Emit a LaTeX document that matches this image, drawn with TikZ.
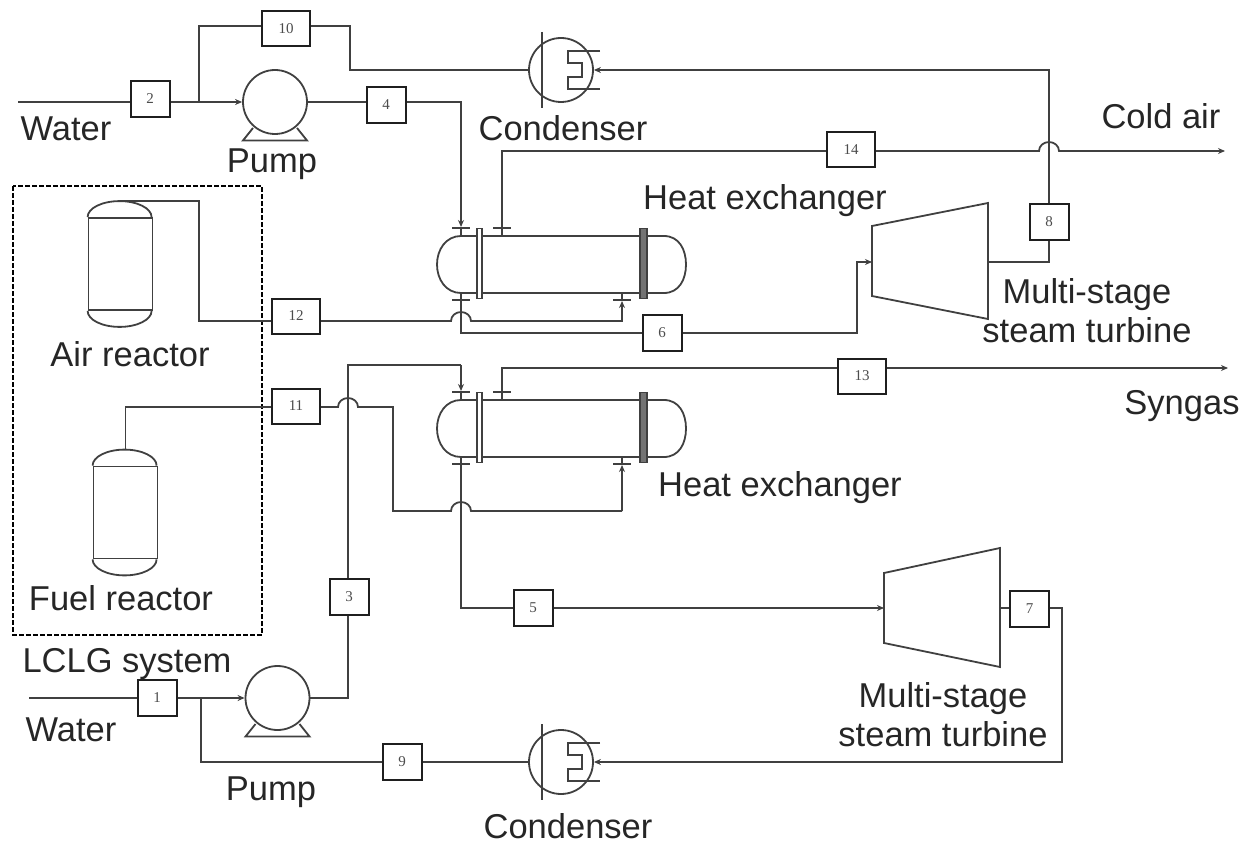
\documentclass[tikz,border=0pt]{standalone}
\usepackage{fontspec}
\setmainfont{Liberation Sans}
\newfontfamily\numfont{Liberation Serif}
\usetikzlibrary{arrows.meta,calc}

\begin{document}
\begin{tikzpicture}[
  x=1pt,y=-1pt,
  line/.style={line width=1.8pt,draw=black!75},
  arr/.style={line,-{Stealth[length=7pt,width=6pt]}},
  numbox/.style={draw=black!88,line width=2pt,fill=white,inner sep=0pt,minimum width=39pt,
    minimum height=36pt,font=\numfont\fontsize{15}{15}\selectfont,text=black!70},
  widebox/.style={numbox,minimum width=48pt,minimum height=35pt},
  pump/.style={circle,line,minimum size=64pt,inner sep=0pt},
  condenser/.style={circle,line,minimum size=64pt,inner sep=0pt},
  reactor/.style={rectangle,line,minimum width=64pt,minimum height=92pt,inner sep=0pt},
  lbl/.style={font=\fontsize{34.5}{39}\selectfont,align=center,text=black!85,inner sep=0pt}
]
\useasboundingbox (0,0) rectangle (1256,845);

% number boxes
\node[numbox] (b1) at (157,698) {1};
\node[numbox] (b2) at (150,99) {2};
\node[numbox] (b3) at (349,597) {3};
\node[numbox] (b4) at (386,105) {4};
\node[numbox] (b5) at (533,608) {5};
\node[numbox] (b6) at (662,333) {6};
\node[numbox] (b7) at (1029.5,609) {7};
\node[numbox] (b8) at (1049,222) {8};
\node[numbox] (b9) at (402,762) {9};
\node[widebox] (b10) at (286,29) {10};
\node[widebox] (b11) at (296,406) {11};
\node[widebox] (b12) at (296,316) {12};
\node[widebox] (b13) at (862,376) {13};
\node[widebox] (b14) at (851,150) {14};

% pumps
\node[pump] (pumpa) at (275,102) {};
\node[pump] (pumpb) at (277.5,698) {};
\foreach \p in {pumpa,pumpb}
  \draw[line,shift={(\p.center)}] (-22,26) -- (-32,38.5) -- (32,38.5) -- (22,26);

% condensers
\node[condenser] (conda) at (561,70) {};
\node[condenser] (condb) at (561,762) {};
\foreach \c in {conda,condb} {
  \draw[line,shift={(\c.center)}] (-19,-38) -- (-19,38);
  \draw[line,line width=2.2pt,shift={(\c.center)}] (39,-19) -- (7,-19) -- (7,-7) -- (21,-7) -- (21,7) -- (7,7) -- (7,19) -- (39,19);
}

% heat exchangers
\foreach \h/\cy in {hxa/264.5,hxb/428.5} {
  \coordinate (\h) at (561,\cy);
  \coordinate (\h-tl) at (461,\cy-36.5);
  \coordinate (\h-tr) at (502,\cy-36.5);
  \coordinate (\h-bl) at (461,\cy+35.5);
  \coordinate (\h-br) at (622,\cy+35.5);
  \draw[line,shift={(\h)}] (-100,-28.5) -- (103,-28.5) .. controls (118,-28.5) and (125,-15) .. (125,0)
    .. controls (125,15) and (118,28.5) .. (103,28.5) -- (-100,28.5)
    .. controls (-115,28.5) and (-124,15) .. (-124,0) .. controls (-124,-15) and (-115,-28.5) .. (-100,-28.5);
  \draw[line,fill=white,shift={(\h)}] (-84,-36) rectangle (-79,34);
  \draw[line,fill=black!55,shift={(\h)}] (79,-36) rectangle (86,34);
  \foreach \n/\d in {tl/8,tr/8,bl/-7,br/-7}
    \draw[line] (\h-\n) ++(-9,0) -- ++(18,0) (\h-\n) -- ++(0,\d);
}

% reactors
\node[reactor] (aira) at (120.5,264) {};
\node[reactor] (fuel) at (125.5,512.5) {};
\foreach \r in {aira,fuel} {
  \draw[line] (\r.north west) arc[start angle=180,end angle=360,x radius=32,y radius=16];
  \draw[line] (\r.south west) arc[start angle=180,end angle=0,x radius=32,y radius=16];
}
\draw[draw=black,line width=2pt,dash pattern=on 5pt off 2pt] (13,186) rectangle (262,635);

% top loop
\coordinate (ina) at (18,102);
\coordinate (splita) at (199,102);
\coordinate (upa) at (350,70);
\coordinate (jump14) at (1049,151);
\coordinate (enda) at (1225,151);
\draw[line] (ina) -- (ina -| b2.west);
\draw[arr] (b2.east |- ina) -- (pumpa.west);
\draw[line] (splita) |- (b10.west |- 0,26);
\draw[line] (b10.east |- 0,26) -| (upa) -- (conda.west);
\draw[arr] (b8.north) |- (conda.east);
\draw[line] (pumpa.east) -- (b4.west |- pumpa.east);
\draw[arr] (b4.east |- pumpa.east) -| ($(hxa-tl)+(0,-1)$);
\draw[line] (hxa-tr) |- (b14.west |- jump14);
\draw[arr] (b14.east |- jump14) -- ([xshift=-10pt]jump14) arc[start angle=180,end angle=360,x radius=10,y radius=9] -- (enda);
\draw[line] (b8.south) |- (988,262);

% air reactor and first heat exchanger
\coordinate (jump12) at (461,321);
\coordinate (turba) at (872,262);
\draw[line] (aira.north) ++(0,-16) -| (199,321) -- (b12.west |- jump12);
\draw[arr] (b12.east |- jump12) -- ([xshift=-10pt]jump12) arc[start angle=180,end angle=360,x radius=10,y radius=9] -| ($(hxa-br)+(0,1)$);
\draw[line] (hxa-bl) |- (b6.west);
\draw[arr] (b6.east) -| (857,262) -- (turba);
\draw[line,fill=white] (872,226) -- (988,203) -- (988,319) -- (872,296) -- cycle;

% fuel reactor and second heat exchanger
\coordinate (jump11) at (348,407);
\coordinate (jump5) at (461,511);
\coordinate (endb) at (1228,368);
\coordinate (turbb) at (884,608);
\coordinate (turbbout) at (1000,608);
\draw[line] (fuel.north) ++(0,-16) |- (b11.west |- jump11);
\draw[line] (b11.east |- jump11) -- ([xshift=-10pt]jump11) arc[start angle=180,end angle=360,x radius=10,y radius=9] -- (393,407) |- ([xshift=-10pt]jump5) arc[start angle=180,end angle=360,x radius=10,y radius=9] -- (622,511);
\draw[arr] (622,511) -- ($(hxb-br)+(0,1)$);
\draw[line] (b3.north -| jump11) |- (461,365);
\draw[arr] (461,365) -- ($(hxb-tl)+(0,-1)$);
\draw[line] (hxb-tr) |- (b13.west |- endb);
\draw[arr] (b13.east |- endb) -- (endb);
\draw[line] (hxb-bl) |- (b5.west);
\draw[arr] (b5.east) -- (turbb);
\draw[line,fill=white] (884,573) -- (1000,548) -- (1000,667) -- (884,643) -- cycle;

% bottom loop
\coordinate (inb) at (29,698);
\coordinate (splitb) at (201,698);
\draw[line] (turbbout) -- (b7.west |- turbbout);
\draw[arr] (b7.east |- turbbout) -- (1062,608) |- (condb.east);
\draw[line] (condb.west) -- (b9.east |- condb.west);
\draw[line] (b9.west |- condb.west) -| (splitb);
\draw[line] (inb) -- (b1.west);
\draw[arr] (b1.east) -- (pumpb.west);
\draw[line] (b3.south -| jump11) |- (pumpb.east);

% labels
\node[lbl] (waterup) at (66,129) {Water};
\node[lbl] (pumpup) at (272,164) {Pump};
\node[lbl] (condup) at (563,128) {Condenser};
\node[lbl] (coldair) at (1161,116) {Cold air};
\node[lbl] (hexup) at (765,201) {Heat exchanger};
\node[lbl] (turbup) at (1087,311) {Multi-stage\\steam turbine};
\node[lbl] (airlbl) at (130,354) {Air reactor};
\node[lbl] (fuellbl) at (121,598) {Fuel reactor};
\node[lbl] (syngas) at (1182,406) {Syngas};
\node[lbl] (hexdown) at (780,488) {Heat exchanger};
\node[lbl] (lclg) at (127,664) {LCLG system};
\node[lbl] (waterdown) at (71,730) {Water};
\node[lbl] (pumpdown) at (271,792) {Pump};
\node[lbl] (conddown) at (568,826) {Condenser};
\node[lbl] (turbdown) at (943,715) {Multi-stage\\steam turbine};
\end{tikzpicture}
\end{document}
